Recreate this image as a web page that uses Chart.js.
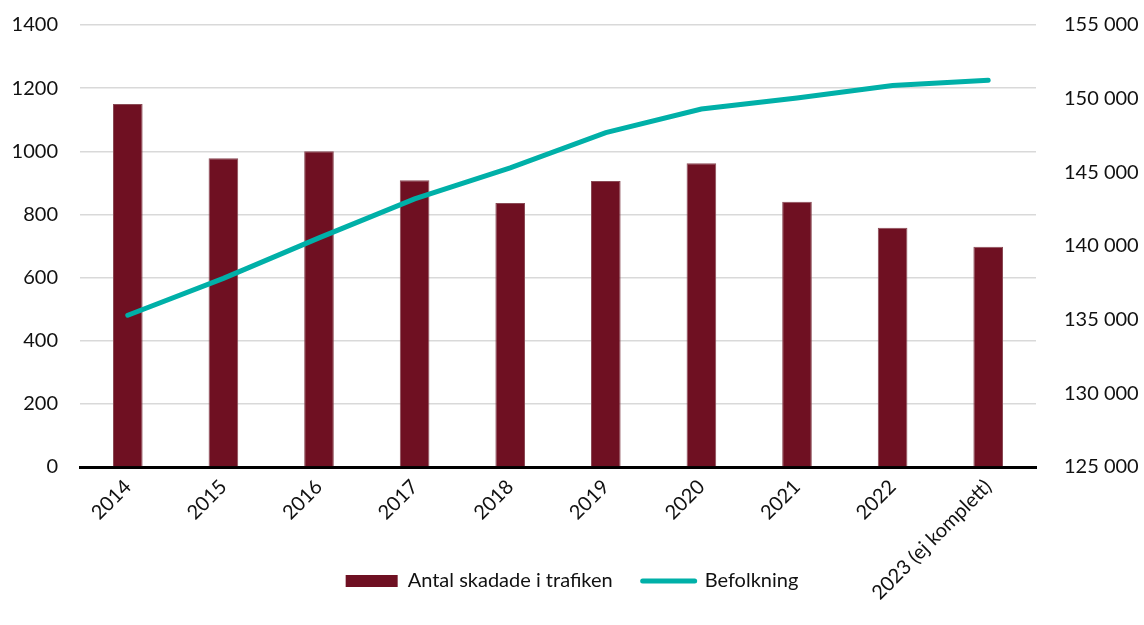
<!DOCTYPE html>
<html>
<head>
<meta charset="utf-8">
<script src="https://cdn.jsdelivr.net/npm/chart.js@4"></script>
<style>
  html, body { margin: 0; padding: 0; background: #fff; }
  #wrap { width: 1144px; height: 625px; }
</style>
</head>
<body>
<div id="wrap"><canvas id="chart" width="1144" height="625"></canvas></div>
<script>
const years = ['2014', '2015', '2016', '2017', '2018', '2019', '2020', '2021', '2022', '2023 (ej komplett)'];
const injured = [1150, 978, 1000, 908, 836, 906, 962, 840, 758, 698];
const population = [135300, 137800, 140550, 143200, 145300, 147700, 149300, 150050, 150900, 151250];

const barColor = '#6F1022';
const lineColor = '#00B0A8';
const font = { family: 'Lato, "Liberation Sans", sans-serif', size: 20 };

// let the long rotated x label run past the axis box, like the original
const noLabelClip = {
    id: 'noLabelClip',
    beforeDraw(chart) {
        chart.scales.x._computeLabelArea = () => undefined;
    }
};

const ctx = document.getElementById('chart').getContext('2d');
new Chart(ctx, {
    data: {
        labels: years,
        datasets: [{
            type: 'line',
            label: 'Befolkning',
            data: population,
            yAxisID: 'y1',
            borderColor: lineColor,
            backgroundColor: lineColor,
            borderWidth: 5,
            borderCapStyle: 'round',
            pointRadius: 0,
            tension: 0,
            order: 0
        }, {
            type: 'bar',
            label: 'Antal skadade i trafiken',
            data: injured,
            yAxisID: 'y',
            backgroundColor: barColor,
            borderColor: '#8a4a55',
            borderWidth: { left: 1, right: 1, top: 1, bottom: 0 },
            categoryPercentage: 1,
            barPercentage: 0.31,
            order: 1
        }]
    },
    options: {
        responsive: false,
        animation: false,
        layout: { padding: { top: 25, bottom: 24, left: 0, right: 0 } },
        scales: {
            x: {
                grid: { display: false, drawTicks: false },
                border: { color: '#000', width: 3 },
                ticks: { font: font, color: '#111', maxRotation: 45, minRotation: 45, padding: 8 },
                afterFit: s => { s.height = 74; }
            },
            y: {
                position: 'left',
                min: 0, max: 1400,
                ticks: { stepSize: 200, font: font, color: '#111', padding: 0, callback: v => String(v) },
                grid: { color: '#D9D9D9', lineWidth: 1.5, tickLength: 22, tickColor: 'transparent' },
                border: { display: false },
                afterFit: s => { s.width = 80; }
            },
            y1: {
                position: 'right',
                min: 125000, max: 155000,
                ticks: {
                    stepSize: 5000, font: font, color: '#111', padding: 0,
                    callback: v => String(v).replace(/(\d{3})$/, ' $1')
                },
                grid: { drawOnChartArea: false, tickLength: 28, tickColor: 'transparent' },
                border: { display: false },
                afterFit: s => { s.width = 108; }
            }
        },
        plugins: {
            tooltip: { enabled: false },
            legend: {
                position: 'bottom',
                reverse: true,
                labels: {
                    font: { family: font.family, size: 20 },
                    color: '#111',
                    usePointStyle: true,
                    pointStyleWidth: 52,
                    boxWidth: 52,
                    boxHeight: 12,
                    padding: 30,
                    generateLabels: chart => Chart.defaults.plugins.legend.labels.generateLabels(chart).map(item => {
                        const isBar = item.datasetIndex === 1;
                        return Object.assign(item, {
                            pointStyle: isBar ? 'rect' : 'line',
                            fillStyle: isBar ? barColor : lineColor,
                            strokeStyle: isBar ? barColor : lineColor,
                            lineWidth: isBar ? 0 : 5,
                            lineCap: 'round'
                        });
                    })
                }
            }
        }
    },
    plugins: [noLabelClip]
});
</script>
</body>
</html>
